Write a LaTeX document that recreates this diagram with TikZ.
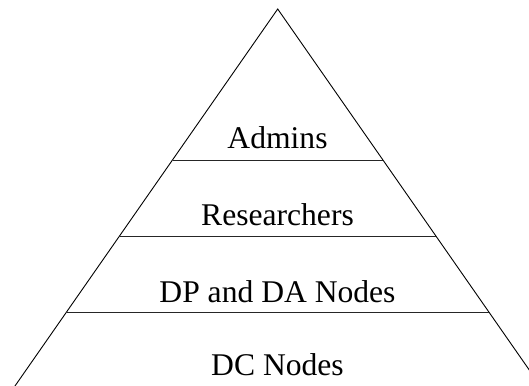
\documentclass[tikz,border=0pt]{standalone}
\usepackage{fontspec}
\setmainfont{Liberation Serif}
\begin{document}
\begin{tikzpicture}[x=1bp,y=-1bp,
  side/.style={draw=black,line width=0.9bp},
  layer/.style={draw=black!85,line width=1bp},
  lbl/.style={anchor=base,inner sep=0pt,font=\fontsize{31.6bp}{31.6bp}\selectfont}]
\useasboundingbox (0,0) rectangle (529,385);
\clip (0,0) rectangle (529,385);
\coordinate (apex) at (277.7,9);
\coordinate (bl) at (5.2,400);
\coordinate (br) at (550.2,400);
\draw[side] (bl) -- (apex) -- (br);
\coordinate (l1) at (172.7,160);
\coordinate (r1) at (382.7,160);
\coordinate (l2) at (119.5,236.5);
\coordinate (r2) at (435.9,236.5);
\coordinate (l3) at (66.8,312);
\coordinate (r3) at (488.6,312);
\draw[layer] (l1) -- (r1);
\draw[layer] (l2) -- (r2);
\draw[layer] (l3) -- (r3);
\node[lbl] (admins) at (277.5,148) {Admins};
\node[lbl] (res) at (277.5,225) {Researchers};
\node[lbl] (dpda) at (277.5,302) {DP and DA Nodes};
\node[lbl] (dc) at (277.5,375) {DC Nodes};
\end{tikzpicture}
\end{document}
